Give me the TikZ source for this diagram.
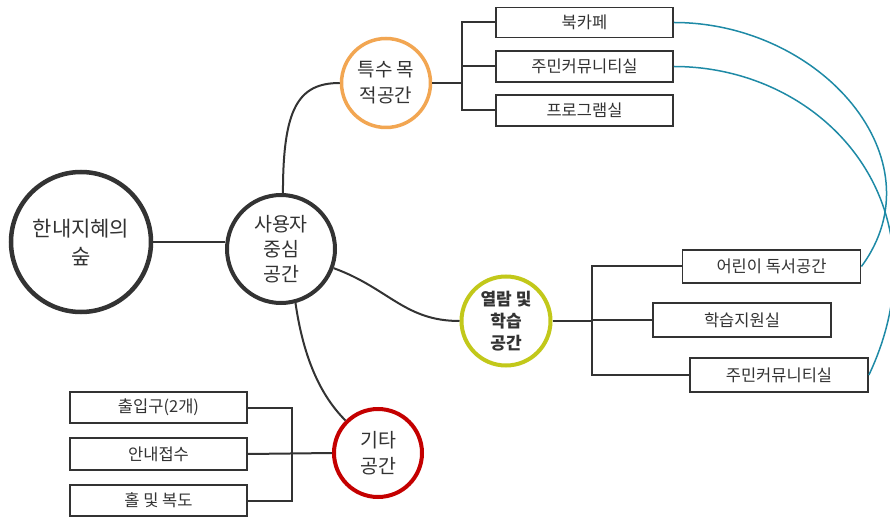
\documentclass[tikz,border=0pt]{standalone}
\usepackage{fontspec}
\newfontfamily\kr{Noto Sans CJK KR}
\definecolor{lin}{HTML}{333333}
\definecolor{txt}{HTML}{333333}
\definecolor{orng}{HTML}{F2A652}
\definecolor{ylw}{HTML}{C2C81A}
\definecolor{rd}{HTML}{C40000}
\definecolor{tealc}{HTML}{1E8AA6}
\begin{document}
\begin{tikzpicture}[x=1pt,y=-1pt,
  every node/.style={text=txt},
  bubble/.style={circle, draw, line width=4pt, align=center, inner sep=0pt, fill=white},
  leaf/.style={draw=lin, line width=1.8pt, minimum width=177pt, minimum height=31pt, inner sep=0pt, fill=white, font=\kr\fontsize{16.5}{18}\selectfont},
  link/.style={draw=lin, line width=2pt},
  tealline/.style={draw=tealc, line width=1.5pt}]
\useasboundingbox (0,0) rectangle (890,518);
% circles
\node[bubble, draw=lin, line width=4.5pt, minimum size=140pt, font=\kr\fontsize{21}{28}\selectfont] (root) at (81,242) {한내지혜의\\숲};
\node[bubble, draw=lin, minimum size=108pt, font=\kr\fontsize{19.5}{25}\selectfont] (user) at (281,249) {사용자\\중심\\공간};
\node[bubble, draw=orng, line width=3.5pt, minimum size=89pt, font=\kr\fontsize{19}{26}\selectfont] (spec) at (386,83) {특수 목\\적공간};
\node[bubble, draw=ylw, minimum size=89pt, font=\kr\bfseries\fontsize{17}{22}\selectfont] (read) at (506,321) {열람 및\\학습\\공간};
\node[bubble, draw=rd, minimum size=88pt, font=\kr\fontsize{19.5}{26}\selectfont] (etc) at (378,453) {기타\\공간};
% boxes
\node[leaf, minimum height=30pt] (bk) at (584.5,22.5) {북카페};
\node[leaf] (cm1) at (584.5,66.5) {주민커뮤니티실};
\node[leaf] (pg) at (584.5,110.5) {프로그램실};
\node[leaf, minimum width=178pt, minimum height=33pt] (kid) at (771.5,266.5) {어린이 독서공간};
\node[leaf, minimum width=178pt, minimum height=34pt] (study) at (742,320) {학습지원실};
\node[leaf, minimum width=178pt, minimum height=34pt] (cm2) at (779,375) {주민커뮤니티실};
\node[leaf] (ent) at (158.5,407.5) {출입구(2개)};
\node[leaf, minimum height=32pt] (info) at (158.5,454) {안내접수};
\node[leaf] (hall) at (158.5,500.5) {홀 및 복도};
% bracket junctions
\coordinate (j1) at (462,83);
\coordinate (j2) at (592,321);
\coordinate (j3) at (292,454);
% main connectors
\draw[link] (root.east) -- (root.east -| user.west);
\draw[link] (user.88) .. controls +(0,-84) and +(-42,0) .. (spec.west);
\draw[link] (user.-20) .. controls +(55,20) and +(-55,0) .. (read.west);
\draw[link] (user.-75) .. controls +(8,55) and +(-25,-25) .. (etc.135);
% brackets
\draw[link] (spec.east) -- (j1);
\draw[link] (bk.west) -| (j1) |- (pg.west);
\draw[link] (cm1.west) -- (cm1.west -| j1);
\draw[link] (read.east) -- (j2);
\draw[link] (kid.west) -| (j2) |- (cm2.west);
\draw[link] (study.west) -- (study.west -| j2);
\draw[link] (etc.west) -- (info.east);
\draw[link] (ent.east) -| (j3) |- (hall.east);
% teal cross links
\draw[tealline] (bk.east) .. controls +(147,0) and +(79,-107) .. (kid.east);
\draw[tealline] (cm1.east) .. controls +(150,0) and +(80,-170) .. (cm2.east);
\end{tikzpicture}
\end{document}
